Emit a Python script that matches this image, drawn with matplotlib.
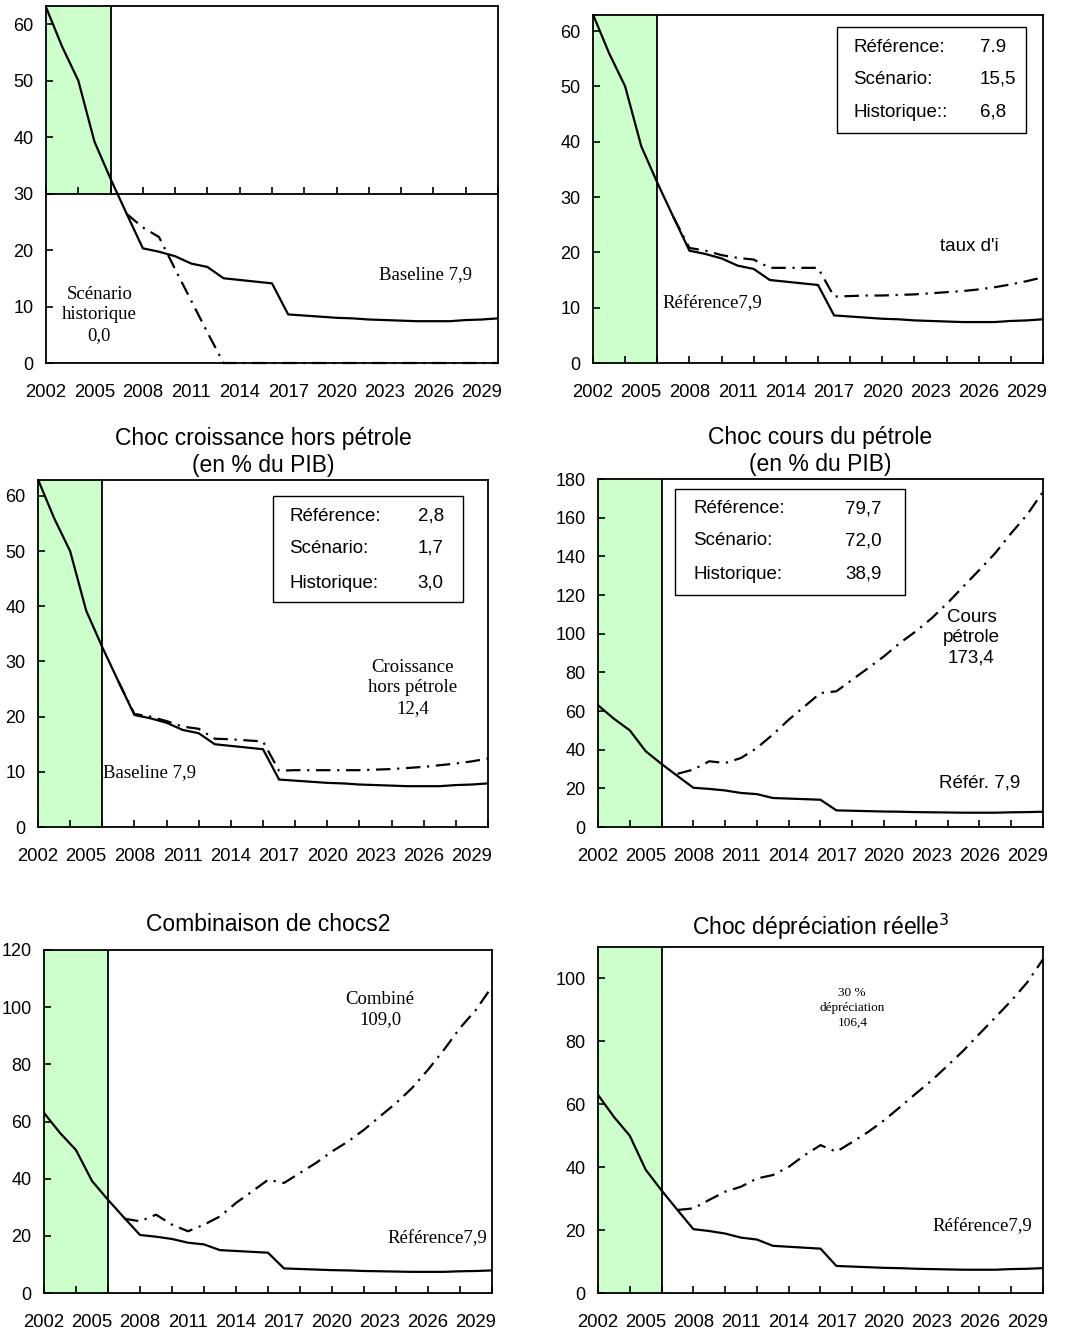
import numpy as np
import matplotlib
matplotlib.use("Agg")
import matplotlib.pyplot as plt
from matplotlib.patches import Rectangle

# --- data (debt ratio, % of GDP) ---
years = np.arange(2002, 2031)
scen_years = np.arange(2007, 2031)

baseline = [63.0, 56.0, 50.0, 39.2, 32.6, 26.4, 20.3, 19.7, 18.9, 17.6, 17.0, 15.0,
            14.7, 14.4, 14.1, 8.6, 8.4, 8.2, 8.0, 7.9, 7.7, 7.6, 7.5, 7.4, 7.4,
            7.4, 7.6, 7.7, 7.9]

historique = [26.4, 24.0, 22.3, 16.6, 11.0, 5.4] + [0.0] * 18
taux_interet = [26.4, 20.8, 20.3, 19.5, 19.0, 18.7, 17.2, 17.2, 17.2, 17.2, 12.0, 12.1,
                12.2, 12.2, 12.3, 12.4, 12.6, 12.8, 13.0, 13.3, 13.7, 14.2, 14.8, 15.5]
croissance = [26.4, 20.5, 20.0, 19.2, 18.2, 17.8, 16.0, 15.9, 15.7, 15.5, 10.2, 10.3,
              10.3, 10.3, 10.3, 10.3, 10.4, 10.5, 10.7, 10.9, 11.2, 11.5, 11.9, 12.4]
cours_petrole = [27.5, 29.7, 34.0, 33.1, 35.7, 40.9, 47.8, 55.5, 62.4, 69.3, 70.2, 76.2,
                 82.2, 88.3, 95.2, 101.2, 108.0, 115.9, 124.5, 133.0, 141.7, 152.0, 161.5, 173.4]
combine = [26.0, 25.1, 27.4, 23.9, 21.6, 23.9, 26.8, 31.5, 35.5, 39.6, 38.5, 42.0,
           45.5, 49.5, 53.0, 57.1, 61.8, 66.4, 71.7, 78.1, 85.1, 92.7, 99.1, 107.2]
depreciation = [26.4, 26.9, 29.6, 32.2, 33.8, 36.4, 37.5, 40.1, 43.8, 47.0, 44.9, 48.0,
                51.2, 54.9, 59.1, 63.4, 67.6, 72.3, 77.1, 82.4, 87.6, 92.9, 98.7, 106.1]

label_years = np.arange(2002, 2030, 3)
tick_years = np.arange(2002, 2031, 2)
hist_end = 2006

box_labels = ["Référence:", "Scénario:", "Historique:"]
box_taux = ["7.9", "15,5", "6,8"]
box_croissance = ["2,8", "1,7", "3,0"]
box_petrole = ["79,7", "72,0", "38,9"]

SANS = "Liberation Sans"
SERIF = "Liberation Serif"
plt.rcParams["font.family"] = SANS

W, H = 1065, 1332
fig = plt.figure(figsize=(W / 100, H / 100), dpi=100)


def make_ax(left, right, top, bottom):
    return fig.add_axes([left / W, 1 - bottom / H, (right - left) / W, (bottom - top) / H])


def draw_panel(ax, ymax, ystep, scenario, cross=0.0):
    ax.set_xlim(2002, 2030)
    ax.set_ylim(0, ymax)
    # shaded historical period
    ax.axvspan(2002, hist_end, ymin=cross / ymax, color="#ccffcc", lw=0, zorder=0)
    ax.plot([hist_end, hist_end], [cross, ymax], color="black", lw=1.3, zorder=2)
    ax.plot(years, baseline, color="black", lw=1.6, zorder=3)
    ax.plot(scen_years, scenario, color="black", lw=1.6, zorder=3,
            ls=(0, (6.5, 3, 1, 3)), clip_on=False)
    for s in ax.spines.values():
        s.set_linewidth(1.3)
    ax.set_yticks(np.arange(0, ymax + 0.1, ystep))
    ax.tick_params(axis="y", direction="in", length=5, width=1.2, pad=9, labelsize=13)
    ax.xaxis.remove_overlapping_locs = False
    ax.set_xticks(label_years)
    ax.set_xticklabels([str(y) for y in label_years])
    ax.tick_params(axis="x", which="major", length=0, pad=15, labelsize=13.3)
    ax.set_xticks(tick_years, minor=True)
    if cross > 0:
        ax.tick_params(axis="x", which="minor", length=0)
        sec = ax.secondary_xaxis(cross / ymax)
        sec.set_alignment("bottom")
        sec.spines["bottom"].set_linewidth(1.3)
        sec.set_xticks(tick_years)
        sec.set_xticklabels([])
        sec.tick_params(axis="x", direction="in", length=5, width=1.2)
    else:
        ax.tick_params(axis="x", which="minor", direction="in", length=5, width=1.2)


def draw_box(ax, rect, xl, xv, ys, values, labels=box_labels):
    ax.add_patch(Rectangle((rect[0], rect[1]), rect[2] - rect[0], rect[3] - rect[1],
                           transform=ax.transAxes, fill=True, facecolor="white",
                           edgecolor="black", lw=1.0, zorder=4))
    for lab, val, y in zip(labels, values, ys):
        ax.text(xl, y, lab, transform=ax.transAxes, fontsize=13.5, va="center", ha="left", zorder=5)
        ax.text(xv, y, val, transform=ax.transAxes, fontsize=13.5, va="center", ha="left", zorder=5)


# panel 1 : historical scenario
ax1 = make_ax(46, 498, 6, 363)
draw_panel(ax1, 63.2, 10, historique, cross=30)
ax1.text(2005.3, 8.5, "Scénario\nhistorique\n0,0", family=SERIF, fontsize=13.5,
         ha="center", va="center", linespacing=1.25)
ax1.text(2025.5, 15.7, "Baseline 7,9", family=SERIF, fontsize=13.5, ha="center", va="center")

# panel 2 : interest rate shock
ax2 = make_ax(593, 1043, 15, 363)
draw_panel(ax2, 62.9, 10, taux_interet)
draw_box(ax2, (0.542, 0.661, 0.962, 0.966), 0.578, 0.86, [0.908, 0.815, 0.72], box_taux,
         labels=["Référence:", "Scénario:", "Historique::"])
ax2.text(2006.3, 10.7, "Référence7,9", family=SERIF, fontsize=13.5, ha="left", va="center")
ax2.text(2025.4, 21.0, "taux d'i", fontsize=13.5, ha="center", va="center")

# panel 3 : non-oil growth shock
ax3 = make_ax(38, 488, 480, 827)
draw_panel(ax3, 62.9, 10, croissance)
ax3.set_title("Choc croissance hors pétrole\n(en % du PIB)", fontsize=16.5, pad=6, linespacing=1.2)
draw_box(ax3, (0.522, 0.648, 0.944, 0.954), 0.558, 0.844, [0.896, 0.804, 0.703], box_croissance)
ax3.text(2025.3, 25.2, "Croissance\nhors pétrole\n12,4", family=SERIF, fontsize=13.5,
         ha="center", va="center", linespacing=1.25)
ax3.text(2006.05, 9.8, "Baseline 7,9", family=SERIF, fontsize=13.5, ha="left", va="center")

# panel 4 : oil price shock
ax4 = make_ax(598, 1043, 479, 827)
draw_panel(ax4, 180, 20, cours_petrole)
ax4.set_title("Choc cours du pétrole\n(en % du PIB)", fontsize=16.5, pad=6, linespacing=1.2)
draw_box(ax4, (0.173, 0.667, 0.69, 0.971), 0.214, 0.555, [0.914, 0.822, 0.727], box_petrole)
ax4.text(2025.5, 97.8, "Cours\npétrole\n173,4", fontsize=13.5, ha="center", va="center",
         linespacing=1.25)
ax4.text(2026.0, 22.8, "Référ. 7,9", fontsize=13.5, ha="center", va="center")

# panel 5 : combined shocks
ax5 = make_ax(44, 492, 950, 1293)
draw_panel(ax5, 120, 20, combine)
ax5.set_title("Combinaison de chocs2", fontsize=16.5, pad=14)
ax5.text(2023.0, 99.2, "Combiné\n109,0", family=SERIF, fontsize=13.5, ha="center",
         va="center", linespacing=1.25)
ax5.text(2026.6, 18.9, "Référence7,9", family=SERIF, fontsize=13.5, ha="center", va="center")

# panel 6 : real depreciation shock
ax6 = make_ax(598, 1043, 947, 1293)
draw_panel(ax6, 110, 20, depreciation)
ax6.set_title("Choc dépréciation réelle$^{3}$", fontsize=16.5, pad=9)
ax6.text(2018.0, 90.6, "30 %\ndépréciation\n106,4", family=SERIF, fontsize=9.5,
         ha="center", va="center", linespacing=1.3)
ax6.text(2026.2, 21.0, "Référence7,9", family=SERIF, fontsize=13.5, ha="center", va="center")

fig.savefig("out.png", dpi=100)
